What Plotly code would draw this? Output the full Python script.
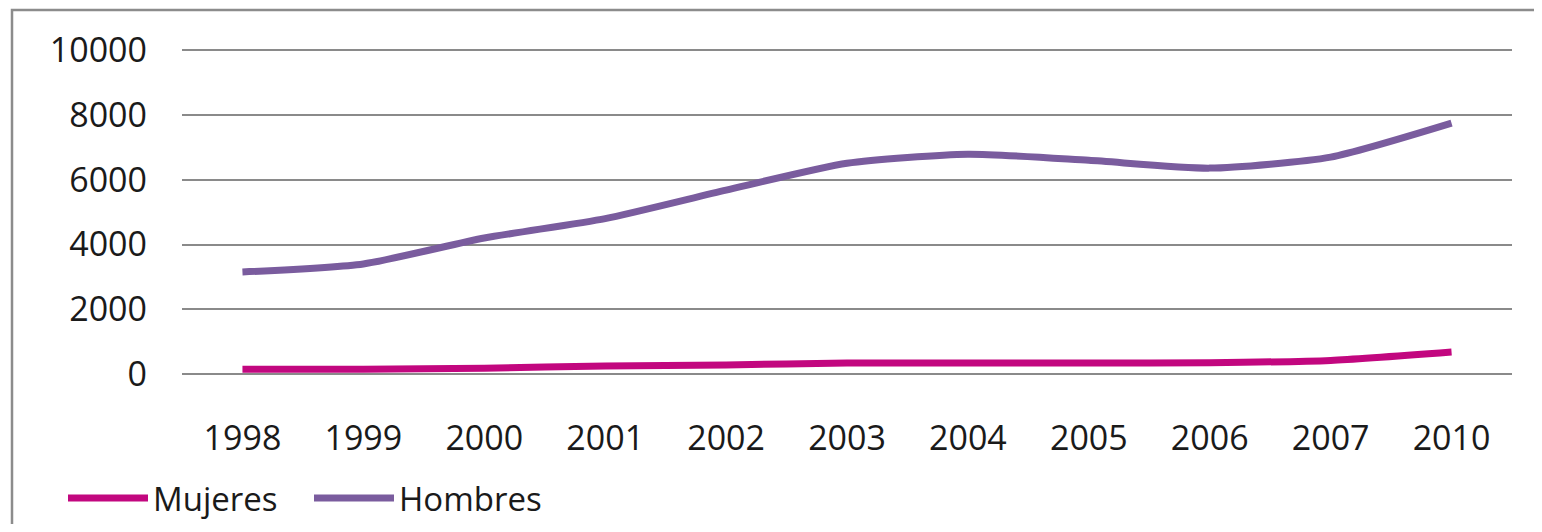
import plotly.graph_objects as go

years = ["1998", "1999", "2000", "2001", "2002", "2003", "2004", "2005", "2006", "2007", "2010"]
mujeres = [150, 150, 180, 250, 280, 340, 340, 340, 350, 420, 680]
hombres = [3150, 3400, 4200, 4800, 5680, 6510, 6790, 6600, 6360, 6700, 7750]
y_ticks = [0, 2000, 4000, 6000, 8000, 10000]
y_tick_text = [str(v) for v in y_ticks]

# the page body has an 8px margin; figure placed so the plot area sits at x 182..1512, y 50..374
OFF = 8
W, H = 1526, 516
L, T = 182 - OFF, 41
pw, ph = 1330, 325
R = W - L - pw
B = H - T - ph

font_family = "Open Sans"
fig = go.Figure()
fig.add_trace(go.Scatter(x=years, y=mujeres, name="Mujeres", mode="lines",
                         line=dict(color="#C2077F", width=7, shape="spline", smoothing=0.6)))
fig.add_trace(go.Scatter(x=years, y=hombres, name="Hombres", mode="lines",
                         line=dict(color="#7A5C9E", width=7, shape="spline", smoothing=0.6)))

def px_x(p):
    return (p - OFF - L) / pw

def px_y(p):
    return (T + ph - (p - OFF)) / ph

fig.update_layout(
    width=W, height=H,
    margin=dict(l=L, r=R, t=T, b=B, autoexpand=False),
    paper_bgcolor="white", plot_bgcolor="white",
    font=dict(family=font_family, size=34, color="#1a1a1a"),
    showlegend=True,
    legend=dict(orientation="h", x=px_x(63), xanchor="left",
                y=px_y(498), yanchor="middle",
                itemwidth=80, entrywidth=151, font=dict(size=33), bgcolor="rgba(0,0,0,0)",
                tracegroupgap=0),
    xaxis=dict(type="category", range=[-0.5, 10.5], showgrid=False, showline=False,
               zeroline=False, ticks="", ticklabelstandoff=41, tickfont=dict(size=34),
               automargin=False),
    yaxis=dict(range=[0, 10040], tickvals=y_ticks, ticktext=y_tick_text, showgrid=True,
               gridcolor="#8a8a8a", gridwidth=2, zeroline=True, zerolinecolor="#8a8a8a",
               zerolinewidth=2, showline=False, ticks="", ticklabelstandoff=34,
               tickfont=dict(size=34), automargin=False),
    shapes=[dict(type="rect", xref="paper", yref="paper",
                 x0=px_x(12), x1=px_x(1580),
                 y0=px_y(580), y1=px_y(10),
                 line=dict(color="#8c8c8c", width=2.5), fillcolor="rgba(0,0,0,0)", layer="below")],
)

fig.write_html("out.html")
